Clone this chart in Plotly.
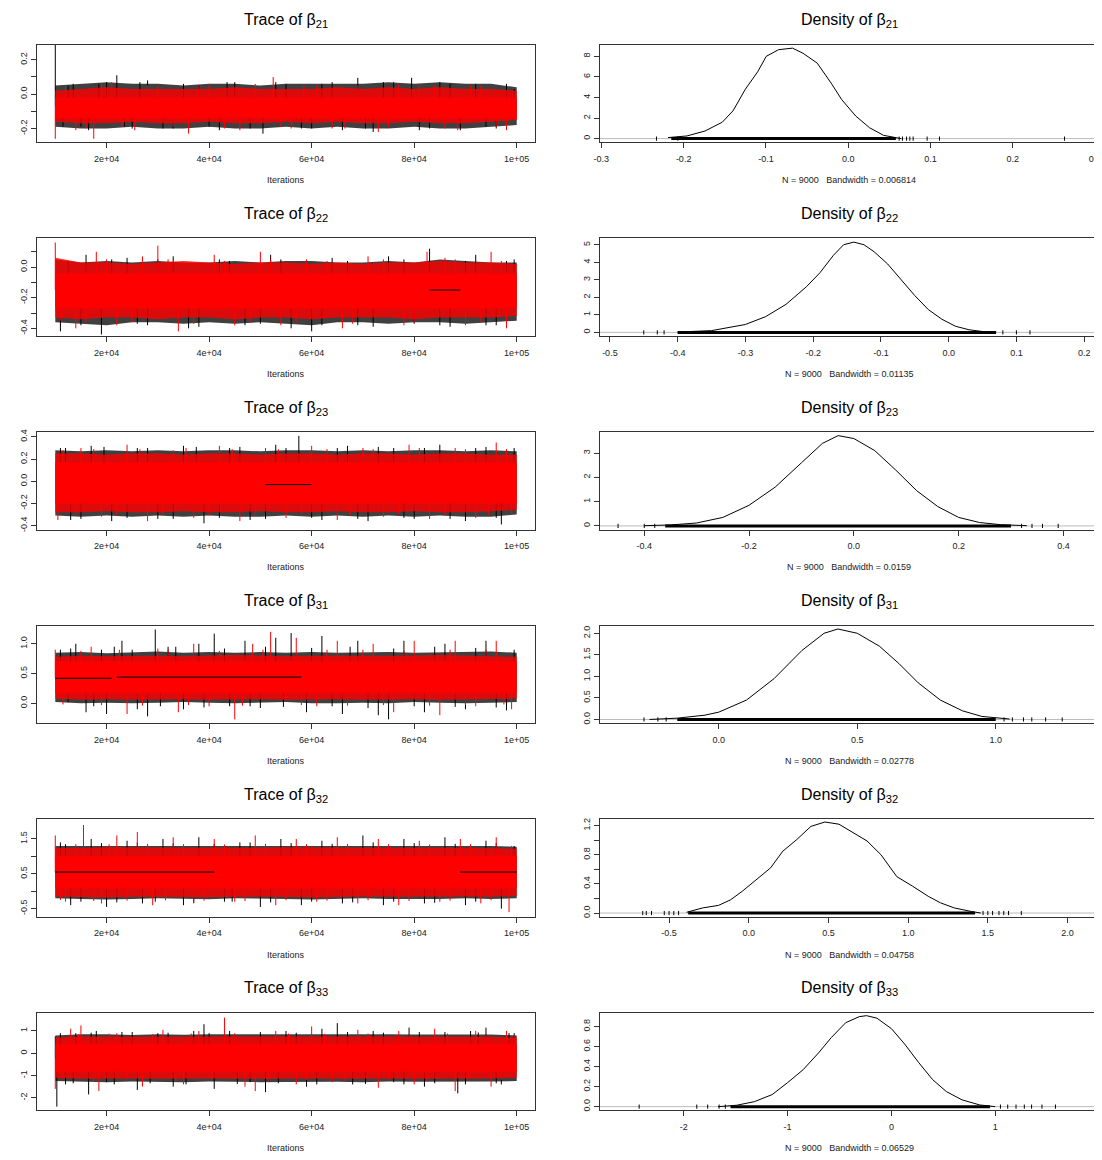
import plotly.graph_objects as go

W, H = 1102, 1160
ITER = list(range(10000, 100001, 5000))
PARAMS = ["21", "22", "23", "31", "32", "33"]
BANDWIDTH = ["0.006814", "0.01135", "0.0159", "0.02778", "0.04758", "0.06529"]
N_SAMPLES = 9000

# ---------------- trace data (envelopes read at every 5000 iterations) --------------
b21_black_hi = [0.05,0.06,0.07,0.06,0.06,0.05,0.06,0.06,0.05,0.06,0.06,0.06,0.06,0.07,0.06,0.07,0.06,0.06,0.04]
b21_black_lo = [-0.19,-0.2,-0.2,-0.19,-0.2,-0.2,-0.19,-0.2,-0.2,-0.19,-0.2,-0.19,-0.2,-0.2,-0.19,-0.2,-0.2,-0.19,-0.18]
b21_red_hi = [0.02,0.03,0.04,0.03,0.03,0.03,0.03,0.04,0.03,0.03,0.03,0.04,0.03,0.04,0.03,0.04,0.03,0.03,0.02]
b21_red_lo = [-0.16,-0.17,-0.17,-0.16,-0.17,-0.17,-0.16,-0.17,-0.17,-0.16,-0.17,-0.16,-0.17,-0.17,-0.16,-0.17,-0.17,-0.16,-0.15]
b21_core = [-0.14, -0.02]
b21_center = -0.07
b21_black_spikes = [(10000,0.286),(11500,-0.19),(13500,0.06),(16500,-0.21),(20000,0.07),(22000,0.11),(25000,-0.2),(28000,0.08),(33000,-0.2),(38000,0.05),(42000,-0.21),(45000,0.07),(50500,-0.23),(55000,0.06),(58000,-0.2),(62000,0.06),(66000,-0.21),(69000,0.095),(72000,-0.22),(76000,0.07),(79500,0.095),(81000,-0.21),(85000,0.07),(89000,-0.21),(92000,0.06),(96000,-0.2),(99500,0.03),
                    (12500,0.05),(15000,-0.19),(18500,0.06),(23500,-0.19),(26500,0.07),(31000,-0.2),(35000,0.06),(40000,-0.19),(43500,0.07),(48000,-0.2),(53000,0.07),(60000,-0.2),(64000,0.07),(70500,-0.2),(74000,0.07),(83000,-0.2),(87000,0.06),(94000,-0.19),(98000,0.06)]
b21_red_spikes = [(10000,-0.26),(14000,-0.21),(17500,-0.26),(21000,0.07),(25500,-0.21),(30000,0.05),(36000,-0.23),(40000,0.06),(46000,-0.21),(52500,0.1),(56000,-0.2),(61000,0.05),(66500,-0.2),(73000,-0.22),(77000,0.06),(84000,0.05),(88500,-0.21),(93000,0.05),(98000,-0.21),
                  (12000,0.05),(16000,-0.2),(19000,0.06),(23000,-0.19),(28000,0.05),(33000,-0.19),(38000,0.05),(43000,-0.2),(49000,0.06),(54000,-0.19),(58500,0.05),(64000,-0.2),(69000,0.05),(75000,-0.19),(81000,0.06),(86000,-0.2),(91000,0.05),(96000,-0.19)]
b21_flat = []

b22_black_hi = [0.05,0.03,0.04,0.03,0.04,0.03,0.03,0.04,0.03,0.04,0.04,0.03,0.03,0.04,0.03,0.05,0.04,0.03,0.03]
b22_black_lo = [-0.36,-0.37,-0.38,-0.36,-0.36,-0.37,-0.36,-0.37,-0.36,-0.37,-0.38,-0.36,-0.36,-0.37,-0.36,-0.36,-0.37,-0.36,-0.35]
b22_red_hi = [0.06,0.03,0.03,0.02,0.03,0.04,0.03,0.02,0.03,0.03,0.02,0.03,0.02,0.03,0.03,0.04,0.03,0.03,0.02]
b22_red_lo = [-0.33,-0.34,-0.33,-0.33,-0.34,-0.33,-0.33,-0.34,-0.33,-0.33,-0.34,-0.33,-0.33,-0.33,-0.34,-0.33,-0.33,-0.33,-0.32]
b22_core = [-0.27, -0.04]
b22_center = -0.15
b22_black_spikes = [(11000,-0.42),(16000,0.08),(19000,-0.44),(24000,0.06),(28000,-0.38),(33000,0.07),(36000,-0.40),(42000,0.05),(47000,-0.38),(52000,0.08),(56000,-0.40),(60000,-0.42),(64000,0.06),(69000,-0.38),(75000,0.07),(80000,-0.37),(83000,0.12),(87000,-0.39),(92000,0.08),(96000,-0.38),(99500,0.05),
                    (12500,0.04),(15000,-0.38),(21000,0.05),(26000,-0.37),(30000,0.05),(38000,-0.39),(44000,0.04),(50000,-0.37),(54000,0.05),(62000,-0.38),(67000,0.04),(72000,-0.39),(78000,0.05),(85000,-0.38),(90000,0.04),(94000,-0.38),(98000,0.04)]
b22_red_spikes = [(10000,0.16),(11000,-0.35),(14000,-0.4),(18000,0.1),(22000,-0.38),(27000,0.07),(30000,0.14),(34000,-0.42),(41000,0.08),(45000,-0.38),(50000,0.1),(54000,-0.38),(59000,0.05),(66000,-0.4),(71000,0.07),(78000,-0.38),(82500,0.1),(86000,0.06),(90000,-0.38),(95000,0.1),(98000,-0.4),
                  (12000,0.04),(16000,-0.36),(20000,0.05),(25000,-0.36),(32000,0.05),(37000,-0.37),(43000,0.04),(48000,-0.36),(52000,0.05),(57000,-0.36),(63000,0.04),(68000,-0.37),(74000,0.05),(80000,-0.36),(88000,0.05),(93000,-0.36),(97000,0.04)]
b22_flat = [(83000, 89000, -0.15)]

b23_black_hi = [0.28,0.27,0.28,0.27,0.28,0.27,0.28,0.28,0.27,0.28,0.28,0.27,0.28,0.27,0.28,0.28,0.27,0.28,0.27]
b23_black_lo = [-0.31,-0.32,-0.31,-0.32,-0.31,-0.32,-0.31,-0.32,-0.32,-0.31,-0.32,-0.31,-0.32,-0.31,-0.32,-0.31,-0.32,-0.32,-0.3]
b23_red_hi = [0.25,0.25,0.24,0.25,0.25,0.24,0.25,0.25,0.24,0.25,0.25,0.24,0.25,0.25,0.24,0.25,0.25,0.24,0.24]
b23_red_lo = [-0.28,-0.28,-0.27,-0.28,-0.28,-0.27,-0.28,-0.28,-0.27,-0.28,-0.28,-0.27,-0.28,-0.28,-0.27,-0.28,-0.28,-0.27,-0.26]
b23_core = [-0.2, 0.17]
b23_center = -0.01
b23_black_spikes = [(11000,0.3),(13000,-0.35),(17000,0.32),(21000,-0.36),(26000,0.3),(30000,-0.34),(35000,0.32),(39000,-0.38),(44000,0.3),(48000,-0.35),(53000,0.33),(57500,0.41),(62000,-0.35),(67000,0.32),(71000,-0.36),(76000,0.3),(80000,-0.34),(85000,0.33),(90000,-0.36),(94000,0.31),(97000,-0.39),(99500,0.3),
                    (12000,0.3),(15000,-0.34),(19500,0.31),(24000,-0.33),(28000,0.3),(33000,-0.34),(37500,0.31),(42000,-0.33),(46000,0.31),(51000,-0.34),(55000,0.3),(60000,-0.33),(65000,0.3),(69000,-0.34),(73000,0.31),(78000,-0.33),(82000,0.3),(87000,-0.34),(92000,0.3),(96000,-0.33)]
b23_red_spikes = [(10500,-0.35),(15000,0.3),(19000,-0.32),(24000,0.33),(28000,-0.36),(33000,0.28),(37000,-0.33),(42000,0.32),(46000,-0.36),(51000,0.3),(55000,-0.33),(60000,0.32),(65000,-0.35),(70000,0.3),(74000,-0.32),(79000,0.33),(83000,-0.34),(88000,0.3),(92000,-0.33),(96000,0.35),(99000,-0.3),
                  (11500,0.28),(14000,-0.3),(17500,0.29),(22000,-0.31),(26500,0.29),(31000,-0.3),(35500,0.3),(40000,-0.31),(44500,0.29),(49000,-0.31),(53500,0.29),(58000,-0.3),(63000,0.29),(67500,-0.31),(72000,0.29),(77000,-0.3),(81000,0.3),(86000,-0.31),(90000,0.29),(94500,-0.3),(98000,0.29)]
b23_flat = [(51000, 60000, -0.03)]

b31_black_hi = [0.85,0.86,0.84,0.86,0.87,0.85,0.86,0.85,0.86,0.85,0.86,0.85,0.86,0.86,0.85,0.86,0.86,0.87,0.85]
b31_black_lo = [0.02,0.0,0.01,0.0,0.01,0.02,0.01,0.0,0.01,0.02,0.0,0.0,0.01,0.0,0.02,0.01,0.0,0.01,0.02]
b31_red_hi = [0.78,0.8,0.79,0.8,0.8,0.79,0.8,0.81,0.8,0.79,0.8,0.8,0.79,0.8,0.8,0.81,0.8,0.8,0.78]
b31_red_lo = [0.08,0.06,0.07,0.06,0.06,0.07,0.06,0.06,0.07,0.06,0.06,0.07,0.06,0.06,0.07,0.06,0.06,0.07,0.08]
b31_core = [0.17, 0.7]
b31_center = 0.43
b31_black_spikes = [(11000,0.9),(12500,0.02),(14000,1.0),(16000,-0.15),(19000,0.9),(20000,-0.18),(23000,1.05),(26000,-0.1),(28000,-0.22),(29500,1.24),(32000,0.95),(35000,-0.1),(38000,1.0),(41000,1.17),(44000,-0.05),(47000,1.05),(50000,-0.08),(53000,1.1),(56000,1.18),(59000,-0.15),(62000,1.13),(66000,-0.18),(69000,1.05),(73000,-0.2),(75000,-0.27),(78000,1.05),(82000,-0.15),(86000,1.0),(90000,-0.1),(94000,1.05),(98000,-0.12),(99500,0.9),
                    (13000,0.92),(17500,-0.05),(21500,0.95),(25000,0.9),(30500,-0.05),(33500,0.95),(39000,-0.07),(43000,0.92),(48000,-0.05),(51000,0.95),(54500,-0.06),(60000,0.93),(64000,-0.05),(67500,0.95),(71000,-0.08),(76000,0.92),(80000,-0.05),(84000,0.95),(88000,-0.06),(92000,0.93),(96000,-0.07)]
b31_red_spikes = [(10000,0.9),(17000,0.95),(24000,-0.18),(30000,0.92),(34000,-0.15),(37000,1.0),(40000,-0.05),(45000,-0.27),(48500,1.0),(52000,1.2),(55000,0.05),(57000,1.1),(61000,-0.05),(65000,1.05),(72000,1.0),(76000,-0.15),(80000,1.05),(85000,-0.2),(88000,1.05),(92000,-0.05),(96000,1.05),(99000,-0.1),
                  (11500,-0.02),(15000,0.88),(19000,-0.03),(22500,0.9),(27000,-0.04),(32000,0.9),(36000,-0.03),(42000,0.88),(46500,-0.04),(50500,0.9),(58000,-0.03),(63000,0.9),(67000,-0.04),(70000,0.9),(74000,-0.03),(78000,0.88),(83000,-0.04),(87000,0.9),(90000,-0.03),(94000,0.9),(97500,-0.02)]
b31_flat = [(10000, 21000, 0.42), (22000, 58000, 0.44)]

b32_black_hi = [1.3,1.3,1.32,1.3,1.31,1.3,1.3,1.31,1.3,1.32,1.3,1.31,1.3,1.3,1.32,1.3,1.31,1.3,1.28]
b32_black_lo = [-0.2,-0.22,-0.24,-0.22,-0.2,-0.22,-0.23,-0.2,-0.22,-0.22,-0.24,-0.22,-0.2,-0.22,-0.23,-0.22,-0.2,-0.22,-0.2]
b32_red_hi = [1.25,1.24,1.26,1.25,1.24,1.25,1.25,1.24,1.25,1.26,1.25,1.24,1.25,1.25,1.24,1.25,1.25,1.24,1.22]
b32_red_lo = [-0.15,-0.16,-0.18,-0.16,-0.15,-0.16,-0.17,-0.16,-0.15,-0.16,-0.18,-0.16,-0.15,-0.16,-0.17,-0.16,-0.15,-0.16,-0.14]
b32_core = [0.08, 1.02]
b32_center = 0.55
b32_black_spikes = [(11000,1.4),(13000,-0.4),(17000,1.5),(20000,-0.45),(24000,1.45),(27000,-0.35),(31000,1.5),(35000,-0.4),(38000,1.55),(43000,-0.3),(46000,1.4),(50000,-0.45),(54000,1.5),(58000,-0.4),(62000,1.45),(66000,-0.35),(70000,1.6),(74000,-0.4),(78000,1.5),(82000,-0.35),(86000,1.55),(90000,-0.4),(94000,1.45),(97000,-0.5),(99500,1.3),
                    (12000,1.35),(15000,-0.3),(19000,1.38),(22000,-0.32),(26000,1.4),(29500,-0.3),(33000,1.38),(37000,-0.33),(41000,1.36),(44500,-0.3),(48000,1.4),(52000,-0.32),(56000,1.38),(60000,-0.3),(64000,1.36),(68000,-0.32),(72000,1.4),(76000,-0.3),(80000,1.38),(84000,-0.33),(88000,1.36),(92000,-0.3),(96000,1.38)]
b32_red_spikes = [(10000,1.6),(12000,-0.3),(15500,1.9),(19000,-0.35),(22000,1.6),(26000,1.7),(29000,-0.4),(33000,1.55),(37000,-0.35),(41000,1.5),(45000,-0.3),(49000,1.6),(53000,-0.4),(57000,1.5),(61000,-0.3),(65000,1.55),(69000,-0.35),(73000,1.5),(77000,-0.4),(81000,1.45),(85000,-0.3),(89000,1.5),(93000,-0.35),(96000,1.55),(98500,-0.6),
                  (11000,-0.25),(14000,1.35),(17500,-0.28),(20500,1.35),(24000,-0.27),(28000,1.36),(31500,-0.26),(35000,1.35),(39000,-0.27),(43000,1.34),(47000,-0.28),(51000,1.36),(55000,-0.26),(59000,1.35),(63000,-0.27),(67000,1.36),(71000,-0.26),(75000,1.35),(79000,-0.28),(83000,1.34),(87000,-0.27),(91000,1.35),(95000,-0.26),(99000,1.3)]
b32_flat = [(10000, 41000, 0.55), (89000, 100000, 0.55)]

b33_black_hi = [0.8,0.85,0.85,0.82,0.85,0.83,0.85,0.86,0.84,0.85,0.85,0.86,0.84,0.85,0.84,0.85,0.86,0.84,0.8]
b33_black_lo = [-1.25,-1.28,-1.3,-1.27,-1.28,-1.3,-1.27,-1.28,-1.3,-1.29,-1.27,-1.28,-1.3,-1.27,-1.28,-1.3,-1.28,-1.27,-1.25]
b33_red_hi = [0.7,0.75,0.74,0.73,0.75,0.74,0.75,0.76,0.74,0.75,0.75,0.76,0.74,0.75,0.74,0.75,0.76,0.74,0.7]
b33_red_lo = [-1.1,-1.15,-1.16,-1.14,-1.15,-1.16,-1.14,-1.15,-1.16,-1.15,-1.14,-1.15,-1.16,-1.14,-1.15,-1.16,-1.15,-1.14,-1.1]
b33_core = [-0.82, 0.42]
b33_center = -0.25
b33_black_spikes = [(10300,-2.4),(10000,0.75),(12000,-1.4),(14000,0.9),(16500,-1.85),(18000,1.0),(20000,-1.3),(23000,0.95),(26000,-1.65),(30000,0.9),(33000,-1.5),(37000,1.0),(39000,1.3),(41000,-1.6),(44000,1.0),(48000,-1.3),(51000,-1.75),(55000,1.0),(59000,-1.5),(62000,1.1),(65000,1.35),(68000,-1.4),(72000,1.0),(76000,-1.3),(79000,1.15),(82000,-1.5),(86000,0.95),(88500,-1.8),(91000,1.0),(94000,1.15),(97000,-1.4),(99500,0.9),
                    (11000,0.9),(13500,-1.35),(17000,0.92),(21500,-1.4),(25000,0.95),(28500,-1.35),(32000,0.92),(35500,-1.4),(40000,0.9),(45500,-1.38),(50000,0.95),(53500,-1.35),(57000,0.92),(61000,-1.4),(67000,0.95),(70500,-1.38),(74000,0.92),(78000,-1.4),(81000,0.95),(84000,-1.35),(90000,-1.4),(92500,0.93),(96000,-1.35),(98500,0.9)]
b33_red_spikes = [(10000,-1.6),(13000,1.1),(15000,1.25),(18500,-1.7),(22000,0.9),(27000,-1.5),(31000,1.05),(35000,-1.4),(38000,1.0),(43000,1.6),(47000,-1.5),(49000,-1.7),(53000,1.0),(57000,-1.4),(60000,1.2),(64000,-1.3),(69000,1.05),(73000,-1.55),(77000,1.0),(80000,-1.4),(84000,1.1),(88000,-1.7),(92000,1.0),(95000,-1.5),(98000,1.0),
                  (11500,-1.2),(14500,0.85),(17500,-1.25),(20500,0.88),(24000,-1.2),(29000,0.85),(33500,-1.25),(36500,0.88),(40500,-1.2),(45000,0.9),(51500,-1.25),(55500,0.88),(59000,-1.2),(62500,0.87),(66500,-1.25),(71000,0.88),(75000,-1.2),(79000,0.87),(82500,-1.25),(86500,0.88),(90500,-1.2),(94000,0.87),(97000,-1.2),(99500,0.8)]
b33_flat = []

# ---------------- density data ----------------
b21_dens_x = [-0.219,-0.196,-0.174,-0.153,-0.14,-0.125,-0.11,-0.0996,-0.0846,-0.0676,-0.0548,-0.0377,-0.0207,-0.0079,0.0092,0.026,0.043,0.06,0.0646]
b21_dens_y = [0.1,0.26,0.74,1.6,2.7,4.8,6.5,8.0,8.65,8.8,8.3,7.35,5.4,3.8,2.2,1.06,0.32,0.06,0.0]
b21_rug_dense = [-0.215, 0.058]
b21_rug_pts = [-0.233,-0.207,0.062,0.066,0.071,0.075,0.079,0.096,0.111,0.263]

b22_dens_x = [-0.40,-0.35,-0.30,-0.27,-0.24,-0.21,-0.19,-0.17,-0.155,-0.14,-0.125,-0.11,-0.09,-0.07,-0.05,-0.03,-0.01,0.01,0.03,0.05,0.07]
b22_dens_y = [0.02,0.1,0.45,0.9,1.6,2.6,3.4,4.4,5.0,5.15,5.0,4.6,3.9,3.0,2.1,1.3,0.75,0.35,0.15,0.05,0.01]
b22_rug_dense = [-0.40, 0.07]
b22_rug_pts = [-0.45,-0.43,-0.42,0.08,0.1,0.12]

b23_dens_x = [-0.40,-0.35,-0.30,-0.25,-0.20,-0.15,-0.10,-0.06,-0.03,0.0,0.04,0.08,0.12,0.16,0.20,0.24,0.28,0.33]
b23_dens_y = [0.01,0.04,0.12,0.35,0.85,1.6,2.6,3.4,3.72,3.6,3.1,2.3,1.45,0.8,0.35,0.14,0.05,0.01]
b23_rug_dense = [-0.36, 0.30]
b23_rug_pts = [-0.45,-0.40,-0.38,0.32,0.34,0.36,0.39]

b31_dens_x = [-0.25,-0.15,-0.05,0.0,0.1,0.2,0.3,0.38,0.43,0.5,0.58,0.65,0.72,0.8,0.88,0.95,1.05]
b31_dens_y = [0.0,0.03,0.1,0.17,0.45,0.95,1.6,2.0,2.1,2.0,1.7,1.3,0.85,0.45,0.2,0.07,0.01]
b31_rug_dense = [-0.15, 1.0]
b31_rug_pts = [-0.27,-0.22,-0.19,1.03,1.06,1.1,1.13,1.18,1.24]

b32_dens_x = [-0.39,-0.29,-0.19,-0.115,-0.04,0.05,0.137,0.214,0.302,0.39,0.478,0.566,0.654,0.742,0.83,0.929,1.027,1.126,1.203,1.29,1.40,1.456]
b32_dens_y = [0.01,0.07,0.105,0.18,0.30,0.46,0.62,0.85,1.01,1.19,1.25,1.22,1.10,0.99,0.80,0.50,0.37,0.23,0.14,0.07,0.02,0.0]
b32_rug_dense = [-0.38, 1.42]
b32_rug_pts = [-0.665,-0.643,-0.61,-0.53,-0.5,-0.47,-0.44,1.47,1.5,1.53,1.57,1.6,1.63,1.71]

b33_dens_x = [-1.67,-1.49,-1.32,-1.15,-1.0,-0.85,-0.70,-0.58,-0.44,-0.31,-0.24,-0.14,0.0,0.128,0.263,0.397,0.53,0.68,0.85,1.0]
b33_dens_y = [0.0,0.014,0.05,0.12,0.24,0.37,0.54,0.69,0.84,0.90,0.91,0.885,0.78,0.625,0.44,0.27,0.15,0.068,0.017,0.0]
b33_rug_dense = [-1.55, 0.95]
b33_rug_pts = [-2.43,-1.875,-1.77,-1.66,-1.6,1.05,1.12,1.2,1.28,1.35,1.45,1.58]

# ---------------- axis configuration ----------------
TRACE_XTICKS = [20000, 40000, 60000, 80000, 100000]
TRACE_XTICKTEXT = ["2e+04", "4e+04", "6e+04", "8e+04", "1e+05"]
TRACE_XRANGE = [6400, 103600]

trace_yranges = [[-0.281, 0.287], [-0.45, 0.187], [-0.436, 0.445], [-0.333, 1.306], [-0.73, 2.07], [-2.56, 1.82]]
trace_yticks = [[-0.2,-0.1,0.0,0.1,0.2], [-0.4,-0.3,-0.2,-0.1,0.0,0.1], [-0.4,-0.2,0.0,0.2,0.4], [0.0,0.5,1.0], [-0.5,0.0,0.5,1.0,1.5], [-2,-1,0,1]]
trace_yticktext = [["-0.2","","0.0","","0.2"], ["-0.4","","-0.2","","0.0",""], ["-0.4","-0.2","0.0","0.2","0.4"], ["0.0","0.5","1.0"], ["-0.5","","0.5","","1.5"], ["-2","-1","0","1"]]

dens_xranges = [[-0.302, 0.305], [-0.515, 0.222], [-0.485, 0.468], [-0.43, 1.373], [-0.935, 2.198], [-2.81, 2.0]]
dens_xticks = [[-0.3,-0.2,-0.1,0.0,0.1,0.2,0.3], [-0.5,-0.4,-0.3,-0.2,-0.1,0.0,0.1,0.2], [-0.4,-0.2,0.0,0.2,0.4], [0.0,0.5,1.0], [-0.5,0.0,0.5,1.0,1.5,2.0], [-2,-1,0,1]]
dens_xticktext = [["-0.3","-0.2","-0.1","0.0","0.1","0.2","0.3"], ["-0.5","-0.4","-0.3","-0.2","-0.1","0.0","0.1","0.2"], ["-0.4","-0.2","0.0","0.2","0.4"], ["0.0","0.5","1.0"], ["-0.5","0.0","0.5","1.0","1.5","2.0"], ["-2","-1","0","1"]]
dens_yranges = [[-0.37, 9.12], [-0.206, 5.36], [-0.15, 3.87], [-0.085, 2.18], [-0.05, 1.29], [-0.036, 0.94]]
dens_yticks = [[0,2,4,6,8], [0,1,2,3,4,5], [0,1,2,3], [0.0,0.5,1.0,1.5,2.0], [0.0,0.2,0.4,0.6,0.8,1.0,1.2], [0.0,0.2,0.4,0.6,0.8]]
dens_yticktext = [["0","2","4","6","8"], ["0","1","2","3","4","5"], ["0","1","2","3"], ["0.0","0.5","1.0","1.5","2.0"], ["0.0","","0.4","","0.8","","1.2"], ["0.0","0.2","0.4","0.6","0.8"]]

g = globals()
panels = []
for p in PARAMS:
    pre = "b" + p + "_"
    panels.append({k: g[pre + k] for k in [
        "black_hi", "black_lo", "red_hi", "red_lo", "core", "center", "black_spikes",
        "red_spikes", "flat", "dens_x", "dens_y", "rug_dense", "rug_pts"]})

FONT = "Liberation Sans, Arial, sans-serif"
LINE_C = "#333333"
TICK_FONT = dict(family=FONT, size=9, color="#222222")

# page body has an 8px default margin: place everything relative to it
OFF = 8
fig = go.Figure()
LEFT = [(31 - OFF) / W, (533 - OFF) / W]
RIGHT = [(598 - OFF) / W, (1101 - OFF) / W]
ROW_TOP0, ROW_PITCH, BOX_H = 42 - OFF, 194.4, 98

annotations = []
shapes = []


def spike_xy(spikes, center):
    xs, ys = [], []
    for it, v in spikes:
        xs += [it, it, None]
        ys += [center, v, None]
    return xs, ys


for i, p in enumerate(panels):
    top = ROW_TOP0 + ROW_PITCH * i
    bot = top + BOX_H
    yd = [1 - bot / H, 1 - top / H]
    at, ad = 2 * i + 1, 2 * i + 2
    xt, yt = ("x" if at == 1 else f"x{at}"), ("y" if at == 1 else f"y{at}")
    xd, ydn = f"x{ad}", f"y{ad}"

    # ----- trace panel -----
    fig.add_trace(go.Scatter(x=ITER + ITER[::-1], y=p["black_hi"] + p["black_lo"][::-1], fill="toself",
                             fillcolor="rgba(0,0,0,0.75)", line=dict(width=0), mode="lines",
                             xaxis=xt, yaxis=yt, hoverinfo="skip", showlegend=False))
    sx, sy = spike_xy(p["black_spikes"], p["center"])
    fig.add_trace(go.Scatter(x=sx, y=sy, mode="lines", line=dict(color="black", width=1),
                             xaxis=xt, yaxis=yt, showlegend=False))
    fig.add_trace(go.Scatter(x=ITER + ITER[::-1], y=p["red_hi"] + p["red_lo"][::-1], fill="toself",
                             fillcolor="rgba(255,0,0,0.82)", line=dict(width=0), mode="lines",
                             xaxis=xt, yaxis=yt, hoverinfo="skip", showlegend=False))
    sx, sy = spike_xy(p["red_spikes"], p["center"])
    fig.add_trace(go.Scatter(x=sx, y=sy, mode="lines", line=dict(color="#ff0000", width=1),
                             xaxis=xt, yaxis=yt, showlegend=False))
    c0, c1 = p["core"]
    fig.add_trace(go.Scatter(x=[ITER[0], ITER[-1], ITER[-1], ITER[0]], y=[c1, c1, c0, c0], fill="toself",
                             fillcolor="#ff0000", line=dict(width=0), mode="lines",
                             xaxis=xt, yaxis=yt, hoverinfo="skip", showlegend=False))
    fx, fy = [], []
    for a, b, v in p["flat"]:
        fx += [a, b, None]
        fy += [v, v, None]
    if fx:
        fig.add_trace(go.Scatter(x=fx, y=fy, mode="lines", line=dict(color="black", width=1),
                                 xaxis=xt, yaxis=yt, showlegend=False))

    # ----- density panel -----
    shapes.append(dict(type="line", xref=f"{xd} domain", yref=ydn, x0=0, x1=1, y0=0, y1=0,
                       layer="below", line=dict(color="#bbbbbb", width=1)))
    fig.add_trace(go.Scatter(x=p["dens_x"], y=p["dens_y"], mode="lines", line=dict(color="black", width=1),
                             xaxis=xd, yaxis=ydn, showlegend=False))
    fig.add_trace(go.Scatter(x=p["rug_dense"], y=[0, 0], mode="lines", line=dict(color="black", width=3),
                             xaxis=xd, yaxis=ydn, showlegend=False))
    fig.add_trace(go.Scatter(x=p["rug_pts"], y=[0] * len(p["rug_pts"]), mode="markers",
                             marker=dict(symbol="line-ns", size=3, line=dict(color="black", width=1)),
                             xaxis=xd, yaxis=ydn, showlegend=False))

    common = dict(showline=True, linecolor=LINE_C, linewidth=1, mirror=True, ticks="outside", ticklen=5,
                  tickcolor=LINE_C, tickfont=TICK_FONT, showgrid=False, zeroline=False)
    fig.layout[("xaxis" if at == 1 else f"xaxis{at}")] = dict(
        domain=LEFT, anchor=yt, range=TRACE_XRANGE, tickmode="array", tickvals=TRACE_XTICKS,
        ticktext=TRACE_XTICKTEXT, ticklabelstandoff=3, **common)
    fig.layout[("yaxis" if at == 1 else f"yaxis{at}")] = dict(
        domain=yd, anchor=xt, range=trace_yranges[i], tickmode="array", tickvals=trace_yticks[i],
        ticktext=trace_yticktext[i], tickangle=-90, **common)
    fig.layout[f"xaxis{ad}"] = dict(
        domain=RIGHT, anchor=ydn, range=dens_xranges[i], tickmode="array", tickvals=dens_xticks[i],
        ticktext=dens_xticktext[i], ticklabelstandoff=3, **common)
    fig.layout[f"yaxis{ad}"] = dict(
        domain=yd, anchor=xd, range=dens_yranges[i], tickmode="array", tickvals=dens_yticks[i],
        ticktext=dens_yticktext[i], tickangle=-90, **common)

    # titles & labels
    ttl_y = 1 - (top - 24) / H
    lab_y = 1 - (bot + 38) / H
    annotations.append(dict(text=f"Trace of β<sub>{PARAMS[i]}</sub>", x=sum(LEFT) / 2, y=ttl_y,
                            xref="paper", yref="paper", showarrow=False, xanchor="center", yanchor="middle",
                            font=dict(family=FONT, size=16, color="black")))
    annotations.append(dict(text=f"Density of β<sub>{PARAMS[i]}</sub>", x=sum(RIGHT) / 2, y=ttl_y,
                            xref="paper", yref="paper", showarrow=False, xanchor="center", yanchor="middle",
                            font=dict(family=FONT, size=16, color="black")))
    annotations.append(dict(text="Iterations", x=sum(LEFT) / 2, y=lab_y, xref="paper", yref="paper",
                            showarrow=False, xanchor="center", yanchor="middle",
                            font=dict(family=FONT, size=9, color="#222222")))
    annotations.append(dict(text=f"N = {N_SAMPLES}\u00a0\u00a0\u00a0Bandwidth = {BANDWIDTH[i]}",
                            x=sum(RIGHT) / 2, y=lab_y, xref="paper", yref="paper", showarrow=False,
                            xanchor="center", yanchor="middle",
                            font=dict(family=FONT, size=9, color="#222222")))

fig.update_layout(width=W, height=H, margin=dict(l=0, r=0, t=0, b=0), plot_bgcolor="white",
                  paper_bgcolor="white", annotations=annotations, shapes=shapes, showlegend=False,
                  font=dict(family=FONT))
fig.write_html("out.html")
